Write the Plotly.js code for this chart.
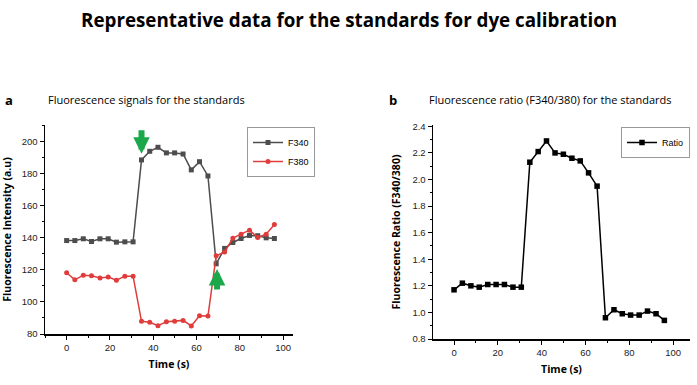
<!DOCTYPE html>
<html>
<head>
<meta charset="utf-8">
<script src="https://cdn.plot.ly/plotly-3.0.1.min.js"></script>
<style>html,body{margin:0;padding:0;background:#fff;}#chart{width:697px;height:385px;}</style>
</head>
<body>
<div id="chart"></div>
<script>
const timeS = [0, 3.8, 7.7, 11.5, 15.4, 19.2, 23.0, 26.9, 30.7, 34.6, 38.4, 42.2, 46.1, 49.9, 53.8, 57.6, 61.4, 65.3, 69.1, 73.0, 76.8, 80.6, 84.5, 88.3, 92.2, 96.0];
const f340 = [138.3, 138.3, 139.4, 137.7, 139.4, 139.4, 137.3, 137.5, 137.5, 188.6, 194.0, 196.5, 193.0, 193.0, 192.3, 182.4, 187.5, 178.6, 123.8, 133.4, 137.1, 139.6, 141.5, 141.3, 140.0, 139.6];
const f380 = [118.2, 113.8, 116.7, 116.3, 114.9, 115.5, 113.6, 116.1, 116.1, 87.9, 87.3, 85.2, 87.7, 87.9, 88.5, 85.0, 91.4, 91.2, 128.8, 131.1, 139.8, 142.3, 144.8, 140.2, 142.3, 148.3];
const ratio = [1.17, 1.22, 1.20, 1.19, 1.21, 1.21, 1.21, 1.19, 1.19, 2.13, 2.21, 2.29, 2.20, 2.19, 2.16, 2.14, 2.05, 1.95, 0.96, 1.02, 0.99, 0.98, 0.98, 1.01, 0.99, 0.94];
const seriesNames = ['F340', 'F380', 'Ratio'];

const tickFont = {family: 'Liberation Sans, Arial', size: 9.5, color: '#222'};
const titleFont = {family: 'Open Sans', size: 10.5, color: '#000', weight: 'bold'};
const minorTicks = {ticks: 'outside', ticklen: 2, tickwidth: 1, tickcolor: '#000'};

function axisBase(extra) {
  return Object.assign({
    showline: true, linecolor: '#000', linewidth: 1.5, mirror: false,
    showgrid: false, zeroline: false,
    ticks: 'outside', ticklen: 4, tickwidth: 1, tickcolor: '#000',
    tickfont: tickFont
  }, extra);
}

const traces = [
  {x: timeS, y: f340, name: seriesNames[0], type: 'scatter', mode: 'lines+markers',
   line: {color: '#4d4d4d', width: 1.5}, marker: {symbol: 'square', size: 5, color: '#4d4d4d'},
   xaxis: 'x', yaxis: 'y', legend: 'legend'},
  {x: timeS, y: f380, name: seriesNames[1], type: 'scatter', mode: 'lines+markers',
   line: {color: '#e03c3c', width: 1.5}, marker: {symbol: 'circle', size: 5, color: '#e03c3c'},
   xaxis: 'x', yaxis: 'y', legend: 'legend'},
  {x: timeS, y: ratio, name: seriesNames[2], type: 'scatter', mode: 'lines+markers',
   line: {color: '#000', width: 1.5}, marker: {symbol: 'square', size: 5.5, color: '#000'},
   xaxis: 'x2', yaxis: 'y2', legend: 'legend2'}
];

const legendFont = {family: 'Liberation Sans, Arial', size: 9, color: '#000'};

const layout = {
  width: 697, height: 385,
  margin: {l: 0, r: 0, t: 0, b: 0},
  paper_bgcolor: '#fff', plot_bgcolor: '#fff',
  showlegend: true,
  xaxis: axisBase({domain: [45/697, 293/697], range: [-10, 104.6], dtick: 20, anchor: 'y',
    minor: Object.assign({dtick: 10}, minorTicks),
    title: {text: 'Time (s)', font: titleFont, standoff: 8}}),
  yaxis: axisBase({domain: [1 - 334/385, 1 - 125/385], range: [80, 210.4], dtick: 20, anchor: 'x',
    minor: Object.assign({dtick: 10}, minorTicks),
    title: {text: 'Fluorescence Intensity (a.u)', font: titleFont, standoff: 9}}),
  xaxis2: axisBase({domain: [433/697, 690/697], range: [-9.6, 107.7], dtick: 20, anchor: 'y2',
    minor: Object.assign({dtick: 10}, minorTicks),
    title: {text: 'Time (s)', font: titleFont, standoff: 8}}),
  yaxis2: axisBase({domain: [1 - 339/385, 1 - 125/385], range: [0.8, 2.41], dtick: 0.2, tickformat: '.1f', anchor: 'x2',
    minor: Object.assign({dtick: 0.1}, minorTicks),
    title: {text: 'Fluorescence Ratio (F340/380)', font: titleFont, standoff: 9}}),
  legend: {x: 247/697, y: 1 - 127/385, xanchor: 'left', yanchor: 'top',
    bordercolor: '#999', borderwidth: 1, bgcolor: '#fff',
    font: legendFont, tracegroupgap: 0, itemwidth: 30},
  legend2: {x: 690/697, y: 1 - 127/385, xanchor: 'right', yanchor: 'top',
    bordercolor: '#999', borderwidth: 1, bgcolor: '#fff',
    font: legendFont, itemwidth: 30},
  annotations: [
    {xref: 'paper', yref: 'paper', x: 0.5, y: 1 - 20/385, xanchor: 'center', yanchor: 'middle',
     text: '<b>Representative data for the standards for dye calibration</b>', showarrow: false,
     font: {family: 'Open Sans', size: 18.8, color: '#000'}},
    {xref: 'paper', yref: 'paper', x: 3/697, y: 1 - 100/385, xanchor: 'left', yanchor: 'middle',
     text: '<b>a</b>', showarrow: false, font: {family: 'Open Sans', size: 13, color: '#000'}},
    {xref: 'paper', yref: 'paper', x: 46/697, y: 1 - 100/385, xanchor: 'left', yanchor: 'middle',
     text: 'Fluorescence signals for the standards', showarrow: false, font: {family: 'Open Sans', size: 11, color: '#000'}},
    {xref: 'paper', yref: 'paper', x: 387/697, y: 1 - 100/385, xanchor: 'left', yanchor: 'middle',
     text: '<b>b</b>', showarrow: false, font: {family: 'Open Sans', size: 13, color: '#000'}},
    {xref: 'paper', yref: 'paper', x: 427/697, y: 1 - 100/385, xanchor: 'left', yanchor: 'middle',
     text: 'Fluorescence ratio (F340/380) for the standards', showarrow: false, font: {family: 'Open Sans', size: 11, color: '#000'}},
    {xref: 'x', yref: 'y', x: 34.6, y: 192.5, ax: 0, ay: -25, text: '', showarrow: true,
     arrowhead: 2, arrowsize: 0.55, arrowwidth: 6, arrowcolor: '#1aa84b'},
    {xref: 'x', yref: 'y', x: 69.5, y: 120.5, ax: 0, ay: 22, text: '', showarrow: true,
     arrowhead: 2, arrowsize: 0.55, arrowwidth: 6, arrowcolor: '#1aa84b'}
  ]
};

Plotly.newPlot('chart', traces, layout, {displayModeBar: false, staticPlot: true});
</script>
</body>
</html>
